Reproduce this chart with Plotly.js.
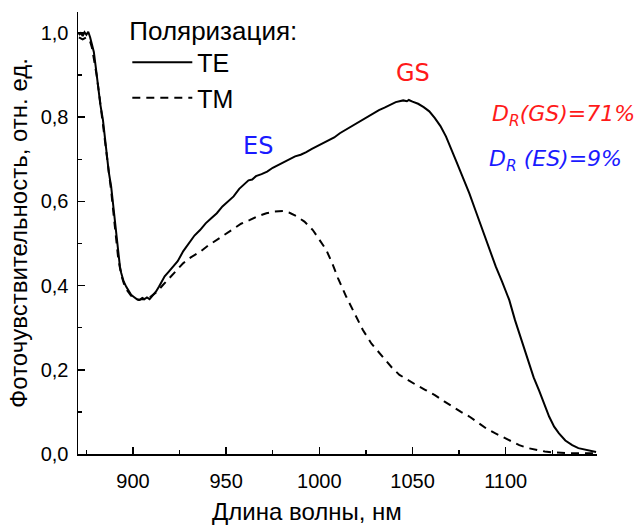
<!DOCTYPE html>
<html>
<head>
<meta charset="utf-8">
<script src="https://cdn.plot.ly/plotly-3.0.1.min.js"></script>
<style>html,body{margin:0;padding:0;background:#fff;}#chart{width:635px;height:527px;}</style>
</head>
<body>
<div id="chart"></div>
<script>
// Wavelength (nm) and photosensitivity (rel. units), TE polarization
const teWavelength = [871,872,873,874,875,876,877,878,879,880,881.2,882.5,883.9,885.7,887,888.3,890.1,891.9,893,893.7,895,896.4,898,899,900.5,902,903.5,905,906.2,907.5,908.9,910,911,912.4,914,915.5,917,919,921,924,927,930,933,936,939,942,945,948,951,954,957,960,962,964,966,969,972,975,978,981,984,987,990,993,996,999,1002,1005,1008,1011,1014,1017,1020,1023,1026,1029,1032,1035,1038,1041,1043,1045,1047,1048,1050,1053,1056,1059,1062,1065,1068,1071,1073.5,1077,1080.5,1084,1087.6,1091,1094.7,1098,1101.9,1105,1109,1112.6,1115,1118,1121,1123.3,1126,1128.6,1132,1135.7,1139,1143,1146,1148.5];
const teValues = [0.995,1.0,0.993,1.002,0.996,1.003,0.99,0.975,0.955,0.92,0.872,0.83,0.793,0.715,0.67,0.635,0.556,0.477,0.445,0.43,0.41,0.397,0.383,0.378,0.373,0.368,0.366,0.371,0.368,0.372,0.368,0.373,0.378,0.386,0.398,0.41,0.422,0.432,0.443,0.458,0.482,0.5,0.519,0.532,0.548,0.56,0.572,0.588,0.6,0.612,0.63,0.643,0.65,0.652,0.66,0.665,0.671,0.68,0.687,0.694,0.7,0.707,0.711,0.717,0.725,0.732,0.738,0.746,0.752,0.762,0.77,0.776,0.786,0.793,0.801,0.81,0.817,0.823,0.83,0.836,0.838,0.84,0.838,0.841,0.837,0.832,0.824,0.814,0.798,0.779,0.754,0.724,0.695,0.657,0.619,0.576,0.532,0.49,0.445,0.41,0.366,0.318,0.264,0.215,0.182,0.15,0.115,0.089,0.065,0.049,0.032,0.021,0.014,0.0095,0.006,0.005];

// TM polarization
const tmWavelength = [871,873,875,877,878,879,880.5,882,884,886,888.3,890.1,892,893.7,895.5,897,899,901,903,905,907,909,911,913,916.2,920,923,926.9,931,935.9,940,944.8,949,953.7,958,962.8,967,971.6,976,980.5,984,987.7,992,996.5,1000,1003.7,1007,1010,1014.4,1019,1023.3,1028,1034,1039,1043,1048,1052,1057,1062,1067,1071.5,1076,1080.5,1085,1089.5,1094,1098.4,1103,1107.3,1112,1116.3,1121,1125.2,1130,1135,1141,1148];
const tmValues = [0.99,0.985,0.99,0.98,0.965,0.94,0.9,0.85,0.78,0.705,0.625,0.548,0.468,0.425,0.4,0.388,0.376,0.37,0.366,0.368,0.366,0.372,0.378,0.386,0.402,0.42,0.435,0.453,0.467,0.48,0.494,0.508,0.522,0.536,0.547,0.556,0.565,0.572,0.576,0.577,0.573,0.565,0.552,0.532,0.51,0.485,0.452,0.418,0.374,0.333,0.295,0.262,0.231,0.205,0.188,0.174,0.164,0.152,0.14,0.125,0.112,0.1,0.089,0.075,0.061,0.05,0.041,0.03,0.021,0.014,0.0095,0.006,0.004,0.0025,0.0018,0.0016,0.0015];

const seriesNames = ['TE', 'TM'];
const xTickVals = [900, 950, 1000, 1050, 1100];
const xTickText = ['900', '950', '1000', '1050', '1100'];
const yTickVals = [0, 0.2, 0.4, 0.6, 0.8, 1.0];
const yTickText = ['0,0', '0,2', '0,4', '0,6', '0,8', '1,0'];

const baseFont = 'Liberation Sans, Arial, sans-serif';
const noteFont = 'DejaVu Sans, sans-serif';

const traces = [
  {x: teWavelength, y: teValues, name: seriesNames[0], type: 'scatter', mode: 'lines',
   line: {color: '#000', width: 2}},
  {x: tmWavelength, y: tmValues, name: seriesNames[1], type: 'scatter', mode: 'lines',
   line: {color: '#000', width: 2, dash: '8px,6px'}}
];

const layout = {
  width: 635, height: 527,
  margin: {l: 78, r: 38, t: 12, b: 73, autoexpand: false},
  paper_bgcolor: '#fff', plot_bgcolor: '#fff',
  font: {family: baseFont, size: 20, color: '#000'},
  showlegend: true,
  legend: {
    x: 0.095, y: 1.014, xanchor: 'left', yanchor: 'top',
    bgcolor: 'rgba(0,0,0,0)', borderwidth: 0,
    font: {family: baseFont, size: 25, color: '#000'},
    title: {text: 'Поляризация:', font: {family: baseFont, size: 26, color: '#000'}, side: 'top'},
    itemwidth: 60
  },
  xaxis: {
    range: [870.5, 1149],
    showgrid: false, zeroline: false,
    showline: true, linecolor: '#000', linewidth: 1.5,
    ticks: 'inside', ticklen: 7, tickwidth: 1.5, tickcolor: '#000',
    tickvals: xTickVals, ticktext: xTickText,
    ticklabelstandoff: 8,
    minor: {dtick: 25, tick0: 875, ticks: 'inside', ticklen: 4, tickwidth: 1.5, tickcolor: '#000', showgrid: false},
    tickfont: {family: baseFont, size: 20, color: '#000'}
  },
  yaxis: {
    range: [0, 1.05],
    showgrid: false, zeroline: false,
    showline: true, linecolor: '#000', linewidth: 1.5,
    ticks: 'inside', ticklen: 7, tickwidth: 1.5, tickcolor: '#000',
    tickvals: yTickVals, ticktext: yTickText,
    ticklabelstandoff: 4,
    minor: {dtick: 0.1, tick0: 0, ticks: 'inside', ticklen: 4, tickwidth: 1.5, tickcolor: '#000', showgrid: false},
    tickfont: {family: baseFont, size: 20, color: '#000'},
    title: {text: 'Фоточувствительность, отн. ед.', font: {family: baseFont, size: 24, color: '#000'}, standoff: 6}
  },
  annotations: [
    {x: 0.441, y: -0.131, xref: 'paper', yref: 'paper', xanchor: 'center', yanchor: 'middle',
     text: 'Длина волны, нм', showarrow: false,
     font: {family: baseFont, size: 24, color: '#000'}},
    {x: 967, y: 0.732, xref: 'x', yref: 'y', text: 'ES', showarrow: false,
     font: {family: noteFont, size: 24, color: '#1a1aff'}},
    {x: 1050, y: 0.905, xref: 'x', yref: 'y', text: 'GS', showarrow: false,
     font: {family: noteFont, size: 24, color: '#ff1a1a'}},
    {x: 0.794, y: 0.765, xref: 'paper', yref: 'paper', xanchor: 'left', yanchor: 'middle',
     text: '<i>D<sub>R</sub>(GS)=71%</i>', showarrow: false,
     font: {family: noteFont, size: 22, color: '#ff1a1a'}},
    {x: 0.788, y: 0.665, xref: 'paper', yref: 'paper', xanchor: 'left', yanchor: 'middle',
     text: '<i>D<sub>R</sub> (ES)=9%</i>', showarrow: false,
     font: {family: noteFont, size: 22, color: '#1a1aff'}}
  ]
};

Plotly.newPlot('chart', traces, layout, {displayModeBar: false, staticPlot: true});
</script>
</body>
</html>
